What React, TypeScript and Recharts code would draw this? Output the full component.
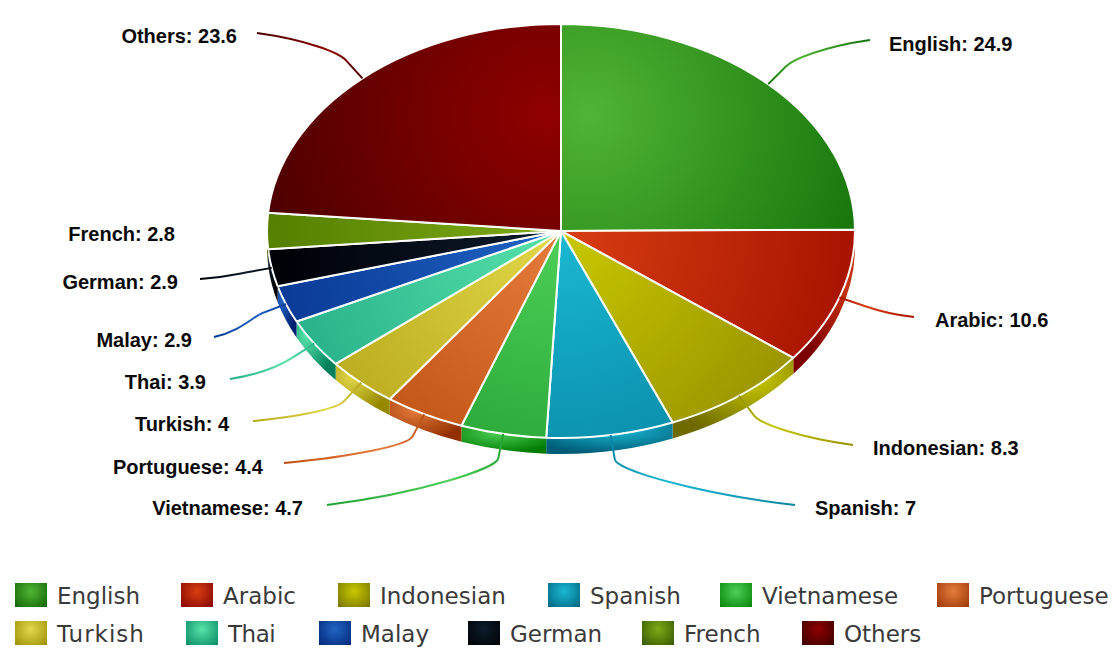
import React from 'react'
import { Legend, Pie, PieChart } from 'recharts'

const categories = ['English', 'Arabic', 'Indonesian', 'Spanish', 'Vietnamese', 'Portuguese', 'Turkish', 'Thai', 'Malay', 'German', 'French', 'Others']
const shares = [24.9, 10.6, 8.3, 7, 4.7, 4.4, 4, 3.9, 2.9, 2.9, 2.8, 23.6]

const brightColors = ['#50b435', '#d83e12', '#c8c800', '#1ab8d2', '#4ecf58', '#e67c3c', '#e2d84a', '#58e2aa', '#2064c4', '#0c1c2c', '#7eaa16', '#8f0000']
const darkColors = ['#137208', '#a81400', '#969000', '#0785a2', '#22a032', '#bc5010', '#b8a81c', '#28b08a', '#0a3a96', '#000006', '#558000', '#4a0000']
const wallColors = ['#0c5c00', '#7c0000', '#6e6a00', '#005c78', '#007c00', '#933000', '#968800', '#00805c', '#002270', '#000000', '#2f5000', '#300000']

// where each leader line ends, and where its text sits
const labelEnds = [[870, 40], [914, 317], [853, 445], [795, 505], [327, 505], [284, 463], [253, 421], [230, 379], [214, 337], [200, 279], [195, 234], [257, 33]]
const labelSpots = [[889, 44], [935, 320], [873, 448], [815, 508], [303, 508], [263, 467], [229, 424], [206, 382], [192, 340], [178, 282], [175, 234], [237, 36]]

// legend text boxes, the original font is wider on some letters
const legendTextWidths = [83, 74, 127, 89, 134, 130, 88, 50, 66, 91, 77, 77]
const legendSpacing = [0, 0, 0, 0, 0, 0, 1, -0.5, 0, 0, 0, 0]

const rows = categories.map((name, i) => ({ name, value: shares[i] }))

const WIDTH = 1115
const HEIGHT = 654
const CX = 561
const CY = 231
const RX = 294
const RY = 207
const DEPTH = 16
const RAD = Math.PI / 180

const onRim = (angle: number, dy = 0) => [CX + RX * Math.cos(angle * RAD), CY - RY * Math.sin(angle * RAD) + dy]

const arc = (from: number, to: number, sweep: number, dy = 0) => {
  const [x, y] = onRim(to, dy)
  const large = Math.abs(to - from) > 180 ? 1 : 0
  return `A ${RX} ${RY} 0 ${large} ${sweep} ${x} ${y}`
}

const SliceShape = (props: any) => {
  const { startAngle, endAngle, name } = props
  const i = categories.indexOf(name)
  const [sx, sy] = onRim(startAngle)
  const from = Math.min(startAngle, 0)
  const to = Math.max(endAngle, -180)
  const hasWall = from > to
  const [wx, wy] = onRim(from)
  const [tx, ty] = onRim(to, DEPTH)
  const [bx, by] = onRim(from, DEPTH)
  return (
    <g>
      {hasWall && (
        <path
          d={`M ${wx} ${wy} ${arc(from, to, 1)} L ${tx} ${ty} ${arc(to, from, 0, DEPTH)} L ${bx} ${by} Z`}
          fill={`url(#wall-${i})`}
        />
      )}
      <path
        d={`M ${CX} ${CY} L ${sx} ${sy} ${arc(startAngle, endAngle, 1)} Z`}
        fill={`url(#face-${i})`}
        stroke="#fff"
        strokeWidth={2}
        strokeLinejoin="round"
      />
    </g>
  )
}

const SliceLabel = (props: any) => {
  const { midAngle, name, value } = props
  const i = categories.indexOf(name)
  const [ex, ey] = labelEnds[i]
  const [tx, ty] = labelSpots[i]
  const dirX = Math.cos(midAngle * RAD)
  const dirY = -Math.sin(midAngle * RAD)
  const [px, py] = onRim(midAngle)
  const kx = px + dirX * 25
  const ky = py + dirY * 25
  const c1x = kx + dirX * 10
  const c1y = ky + dirY * 10
  const c2x = ex + (kx - ex) * 0.55
  const c2y = ey + (ky - ey) * 0.25
  return (
    <g>
      {name !== 'French' && (
        <>
          <linearGradient id={`lead-${i}`} gradientUnits="userSpaceOnUse" x1={px} y1={py} x2={ex} y2={ey}>
            <stop offset="0%" stopColor={darkColors[i]} />
            <stop offset="35%" stopColor={brightColors[i]} />
            <stop offset="100%" stopColor={darkColors[i]} />
          </linearGradient>
          <path
            d={`M ${px} ${py} L ${kx} ${ky} C ${c1x} ${c1y} ${c2x} ${c2y} ${ex} ${ey}`}
            fill="none"
            stroke={`url(#lead-${i})`}
            strokeWidth={2}
          />
        </>
      )}
      <text
        x={tx}
        y={ty}
        dominantBaseline="central"
        textAnchor={ex > CX ? 'start' : 'end'}
        fontFamily="'Liberation Sans', Arial, sans-serif"
        fontWeight="bold"
        fontSize={20}
        fill="#0a0a0a"
      >
        {`${name}: ${value}`}
      </text>
    </g>
  )
}

const LegendBlock = ({ payload }: any) => (
  <div style={{ display: 'flex', flexWrap: 'wrap', columnGap: 41, rowGap: 14 }}>
    {(payload ?? []).map((entry: any) => {
      const i = categories.indexOf(entry.value)
      return (
        <div key={entry.value} style={{ display: 'flex', alignItems: 'center', height: 24 }}>
          <span
            style={{
              display: 'inline-block',
              width: 32,
              height: 24,
              marginRight: 10,
              background: `radial-gradient(ellipse at 50% 35%, ${brightColors[i]}, ${wallColors[i]} 110%)`,
            }}
          />
          <span
            style={{
              position: 'relative',
              top: 1,
              width: legendTextWidths[i],
              fontFamily: "'DejaVu Sans', sans-serif",
              fontSize: 23,
              letterSpacing: legendSpacing[i],
              color: '#3a3a3a',
              lineHeight: '24px',
              whiteSpace: 'nowrap',
            }}
          >
            {entry.value}
          </span>
        </div>
      )
    })}
  </div>
)

export default function App() {
  return (
    <div style={{ position: 'absolute', left: 0, top: 0, width: WIDTH, height: HEIGHT }}>
      <PieChart width={WIDTH} height={HEIGHT} margin={{ top: 0, right: 0, bottom: 0, left: 0 }}>
        <defs>
          {categories.map((_, i) => {
            // slices above the centre line have their highlight further up
            const upper = categories[i] === 'English' || categories[i] === 'Others'
            const side = categories[i] === 'English' ? 28 : categories[i] === 'Others' ? -15 : 0
            return (
              <radialGradient
                key={`face-${i}`}
                id={`face-${i}`}
                gradientUnits="userSpaceOnUse"
                cx={CX + side}
                cy={upper ? 115 : CY}
                r={upper ? 310 : 290}
              >
                <stop offset="0%" stopColor={brightColors[i]} />
                <stop offset="100%" stopColor={darkColors[i]} />
              </radialGradient>
            )
          })}
          {categories.map((_, i) => {
            const before = shares.slice(0, i).reduce((a, b) => a + b, 0)
            const mid = ((before + shares[i] / 2) / 100) * 360
            return (
              <radialGradient key={`wall-${i}`} id={`wall-${i}`} cx={0.5 + 0.3 * Math.sin(mid * RAD)} cy={0.25} r={0.75}>
                <stop offset="0%" stopColor={brightColors[i]} />
                <stop offset="100%" stopColor={wallColors[i]} />
              </radialGradient>
            )
          })}
        </defs>
        <Pie
          data={rows}
          dataKey="value"
          nameKey="name"
          cx={CX}
          cy={CY}
          innerRadius={0}
          outerRadius={RX}
          startAngle={90}
          endAngle={-270}
          shape={SliceShape}
          label={SliceLabel}
          labelLine={false}
          isAnimationActive={false}
        />
        <Legend
          content={LegendBlock}
          itemSorter={null}
          wrapperStyle={{ position: 'absolute', left: 15, top: 583, bottom: 'auto', width: 1100 }}
        />
      </PieChart>
    </div>
  )
}
